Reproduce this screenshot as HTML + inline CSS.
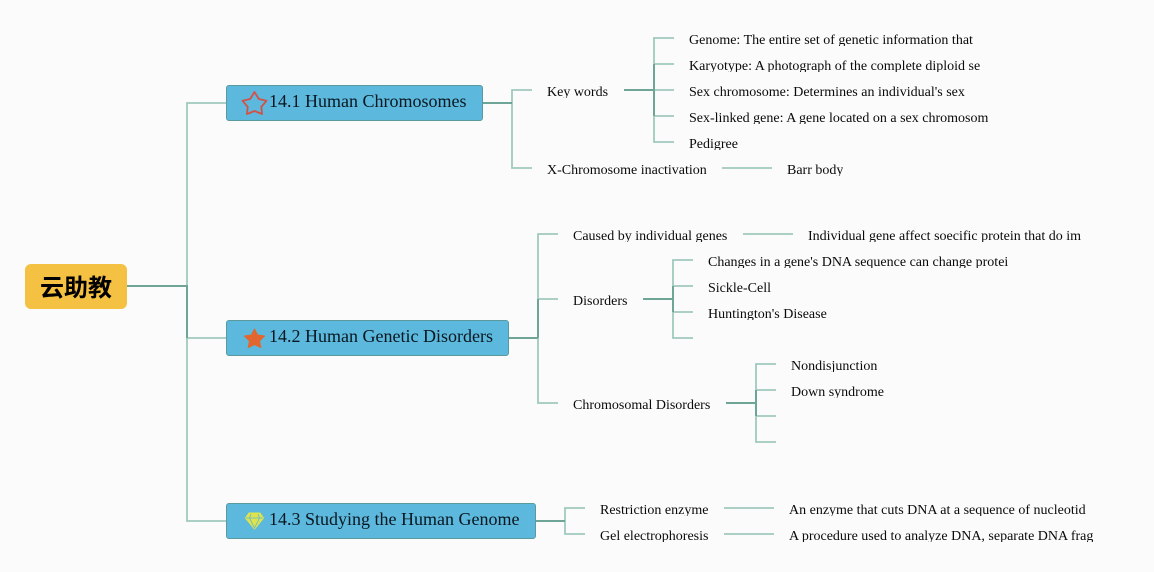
<!DOCTYPE html>
<html><head><meta charset="utf-8">
<style>
html,body{margin:0;padding:0;background:#fbfbfb;}
body{width:1154px;height:572px;overflow:hidden;position:relative;font-family:"Liberation Serif",serif;color:#0a0a0a;}
svg{position:absolute;left:0;top:0;}
.t{position:absolute;font-size:14px;line-height:18px;height:14px;overflow:hidden;white-space:nowrap;}
.b{position:absolute;background:#5cb8dc;border:1px solid #5a9a9c;border-radius:3px;box-sizing:border-box;height:36px;}
.h{position:absolute;font-size:18px;line-height:22px;white-space:nowrap;color:#0a1720;}
.r{position:absolute;left:25px;top:264px;width:102px;height:45px;background:#f4c142;border-radius:6px;text-align:center;font:bold 24px/49px "Liberation Sans","Noto Sans CJK SC",sans-serif;color:#000;}
</style></head><body>
<svg width="1154" height="572" fill="none">
<g stroke="#a0c9bd" stroke-width="1.8">
<path d="M227 103H187V521H227M187 338H227"/>
<path d="M532 90H512V168H532"/>
<path d="M674 38H654V142H674M654 64H674M654 90H674M654 116H674"/>
<path d="M722 168H772"/>
<path d="M558 234H538V403H558M538 299H558"/>
<path d="M743 234H793"/>
<path d="M693 260H673V338H693M673 286H693M673 312H693"/>
<path d="M776 364H756V442H776M756 390H776M756 416H776"/>
<path d="M585 508H565V534H585"/>
<path d="M724 508H774M724 534H774"/>
</g>
<g stroke="#6ea597" stroke-width="2">
<path d="M127 286H187V338"/>
<path d="M482 103H512"/>
<path d="M624 90H654M654 64V116"/>
<path d="M508 338H538"/>
<path d="M538 299V338"/>
<path d="M643 299H673M673 286V312"/>
<path d="M726 403H756M756 390V416"/>
<path d="M535 521H565"/>
</g>
</svg>
<div class="r">云助教</div>
<div class="b" style="left:226px;top:85px;width:257px;width:256.500px"></div>
<div class="b" style="left:226px;top:320px;width:282.500px"></div>
<div class="b" style="left:226px;top:503px;width:309.500px"></div>
<svg width="1154" height="572" fill="none">
<path d="M254.500 92L258.800 99L266.500 100.800L261.300 106.800L262 114L254.500 111L247 114L247.700 106.800L242.500 100.800L250.200 99Z" stroke="#d2524a" stroke-width="1.800" stroke-linejoin="round"/>
<path d="M254.500 329L257.500 335L264.500 336L259.500 341L260.800 347.500L254.500 344.500L248.200 347.500L249.500 341L244.500 336L251.500 335Z" fill="#e2662f" stroke="#e2662f" stroke-linejoin="round"/>
<path d="M249 513H260L263.500 518L254.500 529L245.500 518Z" fill="#dfe44c" stroke="#dfe44c" stroke-linejoin="round"/>
<path d="M246 518H263M251 514L249.500 518L254.500 528L259.500 518L258 514" stroke="#5cb8dc" stroke-width="0.800"/>
</svg>
<div class="h" style="left:269px;top:90px">14.1 Human Chromosomes</div>
<div class="h" style="left:269px;top:325px">14.2 Human Genetic Disorders</div>
<div class="h" style="left:269px;top:508px">14.3 Studying the Human Genome</div>
<div class="t" style="left:547px;top:84px">Key words</div>
<div class="t" style="left:547px;top:162px">X-Chromosome inactivation</div>
<div class="t" style="left:689px;top:32px">Genome: The entire set of genetic information that</div>
<div class="t" style="left:689px;top:58px">Karyotype: A photograph of the complete diploid se</div>
<div class="t" style="left:689px;top:84px">Sex chromosome: Determines an individual's sex</div>
<div class="t" style="left:689px;top:110px">Sex-linked gene: A gene located on a sex chromosom</div>
<div class="t" style="left:689px;top:136px">Pedigree</div>
<div class="t" style="left:787px;top:162px">Barr body</div>
<div class="t" style="left:573px;top:228px">Caused by individual genes</div>
<div class="t" style="left:808px;top:228px">Individual gene affect soecific protein that do im</div>
<div class="t" style="left:573px;top:293px">Disorders</div>
<div class="t" style="left:708px;top:254px">Changes in a gene's DNA sequence can change protei</div>
<div class="t" style="left:708px;top:280px">Sickle-Cell</div>
<div class="t" style="left:708px;top:306px">Huntington's Disease</div>
<div class="t" style="left:573px;top:397px">Chromosomal Disorders</div>
<div class="t" style="left:791px;top:358px">Nondisjunction</div>
<div class="t" style="left:791px;top:384px">Down syndrome</div>
<div class="t" style="left:600px;top:502px">Restriction enzyme</div>
<div class="t" style="left:600px;top:528px">Gel electrophoresis</div>
<div class="t" style="left:789px;top:502px">An enzyme that cuts DNA at a sequence of nucleotid</div>
<div class="t" style="left:789px;top:528px">A procedure used to analyze DNA, separate DNA frag</div>
</body></html>
